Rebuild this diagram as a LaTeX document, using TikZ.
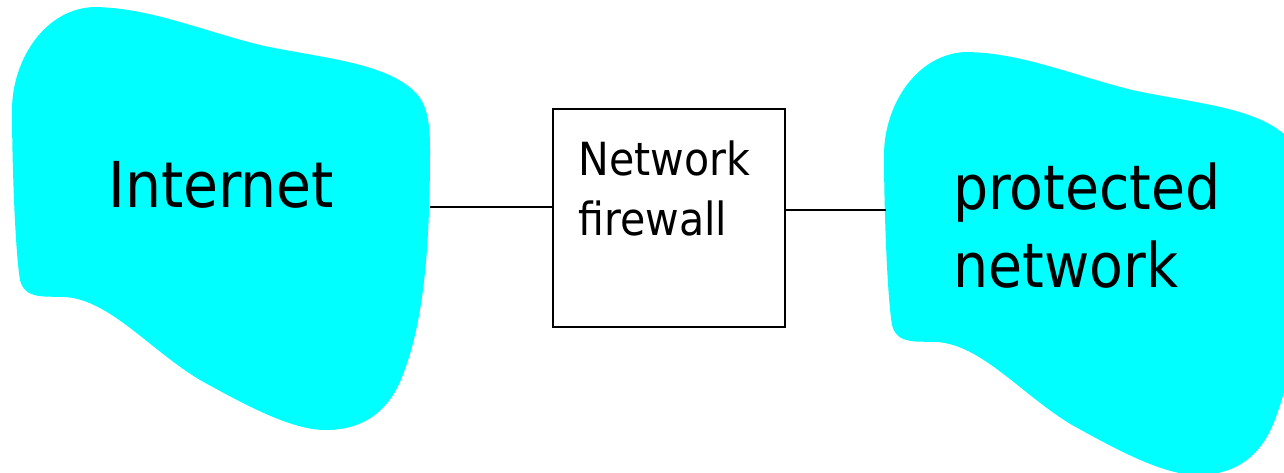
\documentclass[tikz,border=0pt]{standalone}
\usepackage{fontspec}
\setmainfont{DejaVu Sans Condensed}
\usetikzlibrary{positioning}
\definecolor{netcyan}{RGB}{0,255,255}

\newcommand{\blobpath}{(20,280) .. controls (15,250) and (12,160) .. (12,110)
	.. controls (12,60) and (45,8) .. (95,7)
	.. controls (150,8) and (200,30) .. (260,45)
	.. controls (320,58) and (385,62) .. (415,92)
	.. controls (428,105) and (430,125) .. (430,150)
	.. controls (430,260) and (422,330) .. (400,382)
	.. controls (385,415) and (360,430) .. (325,430)
	.. controls (290,430) and (240,402) .. (200,380)
	.. controls (150,350) and (110,300) .. (65,297)
	.. controls (45,296) and (25,300) .. (20,280) -- cycle}

\begin{document}
\begin{tikzpicture}
	[x={(0.02cm,0)}, y={(0,-0.02cm)},
	 cloud/.style={fill=netcyan, draw=none},
	 bigtext/.style={font=\fontsize{36}{44}\selectfont, inner sep=0pt},
	 box/.style={rectangle, draw, line width=1.2pt, minimum width=4.64cm, minimum height=4.36cm},
	 boxtext/.style={font=\fontsize{26}{34}\selectfont, align=left, inner sep=0pt},
	 wire/.style={line width=0.8pt}]
	\useasboundingbox (0,0) rectangle (1284,473);
	\clip (0,0) rectangle (1284,473);
	% the two networks
	\fill[cloud] \blobpath;
	\begin{scope}[shift={(872,45)}]
	\fill[cloud] \blobpath;
	\end{scope}
	\node[bigtext] (inet) [anchor=base west] at (108,207) {Internet};
	\node[bigtext, align=left, font=\fontsize{35}{44}\selectfont] (lan) [anchor=base west] at (953,287) {protected\\network};
	% firewall
	\node[box] (fw) at (669,218) {};
	\node[boxtext] (fwtext) [anchor=base west] at (578,235) {Network\\firewall};
	\coordinate (inetport) at (430,207);
	\coordinate (lanport) at (886,210);
	\draw[wire] (inetport) -- (inetport -| fw.west);
	\draw[wire] (lanport -| fw.east) -- (lanport);
\end{tikzpicture}
\end{document}
